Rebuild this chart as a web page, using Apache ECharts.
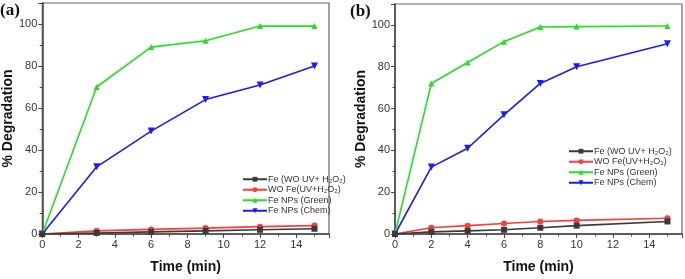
<!DOCTYPE html>
<html>
<head>
<meta charset="utf-8">
<script src="https://cdn.jsdelivr.net/npm/echarts@6/dist/echarts.min.js"></script>
<style>
  html, body { margin: 0; padding: 0; background: #fff; }
  #chart { width: 685px; height: 279px; }
</style>
</head>
<body>
<div id="chart"></div>
<script>
// series names
const names = ['Fe (WO UV+ H₂O₂)', 'WO Fe(UV+H₂O₂)', 'Fe NPs (Green)', 'Fe NPs (Chem)']

// panel (a)
const timeA = [0, 3, 6, 9, 12, 15]
const feA = [0, 0.5, 1, 1.5, 2, 2.5]
const woFeA = [0, 1.5, 2.2, 2.8, 3.5, 4]
const greenA = [0, 70, 89, 92, 99, 99]
const chemA = [0, 32, 49, 64, 71, 80]

// panel (b)
const timeB = [0, 2, 4, 6, 8, 10, 15]
const feB = [0, 1, 1.5, 2, 3, 4, 6]
const woFeB = [0, 3, 4, 5, 6, 6.5, 7.5]
const greenB = [0, 72, 82, 92, 99, 99.2, 99.5]
const chemB = [0, 32, 41, 57, 72, 80, 91]

const colors = ['#3a3a3a', '#ff3b3b', '#22e022', '#1a1aff']
const symbols = ['rect', 'circle', 'triangle', 'path://M0,0 L10,0 L5,9 Z']

const chart = echarts.init(document.getElementById('chart'))

const pair = (xs, ys) => xs.map((x, i) => [x, ys[i]])

const makeSeries = (idx, sets, times) => sets.map((ys, k) => ({
  name: names[k],
  type: 'line',
  xAxisIndex: idx,
  yAxisIndex: idx,
  data: pair(times, ys),
  symbol: symbols[k],
  symbolSize: k === 3 ? 7 : 6,
  lineStyle: { width: 1.6, color: colors[k] },
  itemStyle: { color: colors[k] },
  z: 10 - k
}))

const xAxisBase = gridIndex => ({
  type: 'value',
  gridIndex,
  min: 0,
  max: 15.8,
  interval: 2,
  name: 'Time (min)',
  nameLocation: 'middle',
  nameGap: 26,
  nameTextStyle: { fontFamily: 'Liberation Sans', fontWeight: 'bold', fontSize: 14, color: '#111' },
  axisLine: { show: true, lineStyle: { color: '#444', width: 1.5 } },
  axisTick: { show: true, length: 4, lineStyle: { color: '#444' } },
  minorTick: { show: true, splitNumber: 2, length: 2.5, lineStyle: { color: '#444' } },
  splitLine: { show: false },
  axisLabel: { fontFamily: 'Liberation Sans', fontSize: 11, color: '#333', margin: 5, showMaxLabel: false }
})

const yAxisBase = gridIndex => ({
  type: 'value',
  gridIndex,
  min: 0,
  max: 110,
  interval: 20,
  name: '% Degradation',
  nameLocation: 'middle',
  nameGap: 25,
  nameTextStyle: { fontFamily: 'Liberation Sans', fontWeight: 'bold', fontSize: 14, color: '#111' },
  axisLine: { show: true, lineStyle: { color: '#444', width: 1.5 } },
  axisTick: { show: true, length: 4, lineStyle: { color: '#444' } },
  minorTick: { show: true, splitNumber: 2, length: 2.5, lineStyle: { color: '#444' } },
  splitLine: { show: false },
  axisLabel: { fontFamily: 'Liberation Sans', fontSize: 11, color: '#333', margin: 5, showMaxLabel: false }
})

const legendBase = (left, top) => ({
  data: names,
  orient: 'vertical',
  left,
  top,
  itemWidth: 24,
  itemHeight: 6,
  itemGap: 0,
  selectedMode: false,
  textStyle: { fontFamily: 'Liberation Sans', fontSize: 9, color: '#333', lineHeight: 10.5, padding: [0, 0, 0, -4] }
})

const option = {
  animation: false,
  grid: [
    { left: 42, right: 356, top: 3, bottom: 42, show: true, borderColor: '#666', borderWidth: 1.2 },
    { left: 395, right: 3, top: 4, bottom: 43, show: true, borderColor: '#666', borderWidth: 1.2 }
  ],
  xAxis: [xAxisBase(0), xAxisBase(1)],
  yAxis: [yAxisBase(0), yAxisBase(1)],
  legend: [legendBase(237, 169), legendBase(563, 141)],
  graphic: [
    { type: 'text', left: 0, top: 2, style: { text: '(a)', font: 'bold 17px "Liberation Serif"', fill: '#111' } },
    { type: 'text', left: 350, top: 3, style: { text: '(b)', font: 'bold 17px "Liberation Serif"', fill: '#111' } }
  ],
  series: [
    ...makeSeries(0, [feA, woFeA, greenA, chemA], timeA),
    ...makeSeries(1, [feB, woFeB, greenB, chemB], timeB)
  ]
}

chart.setOption(option)
</script>
</body>
</html>
